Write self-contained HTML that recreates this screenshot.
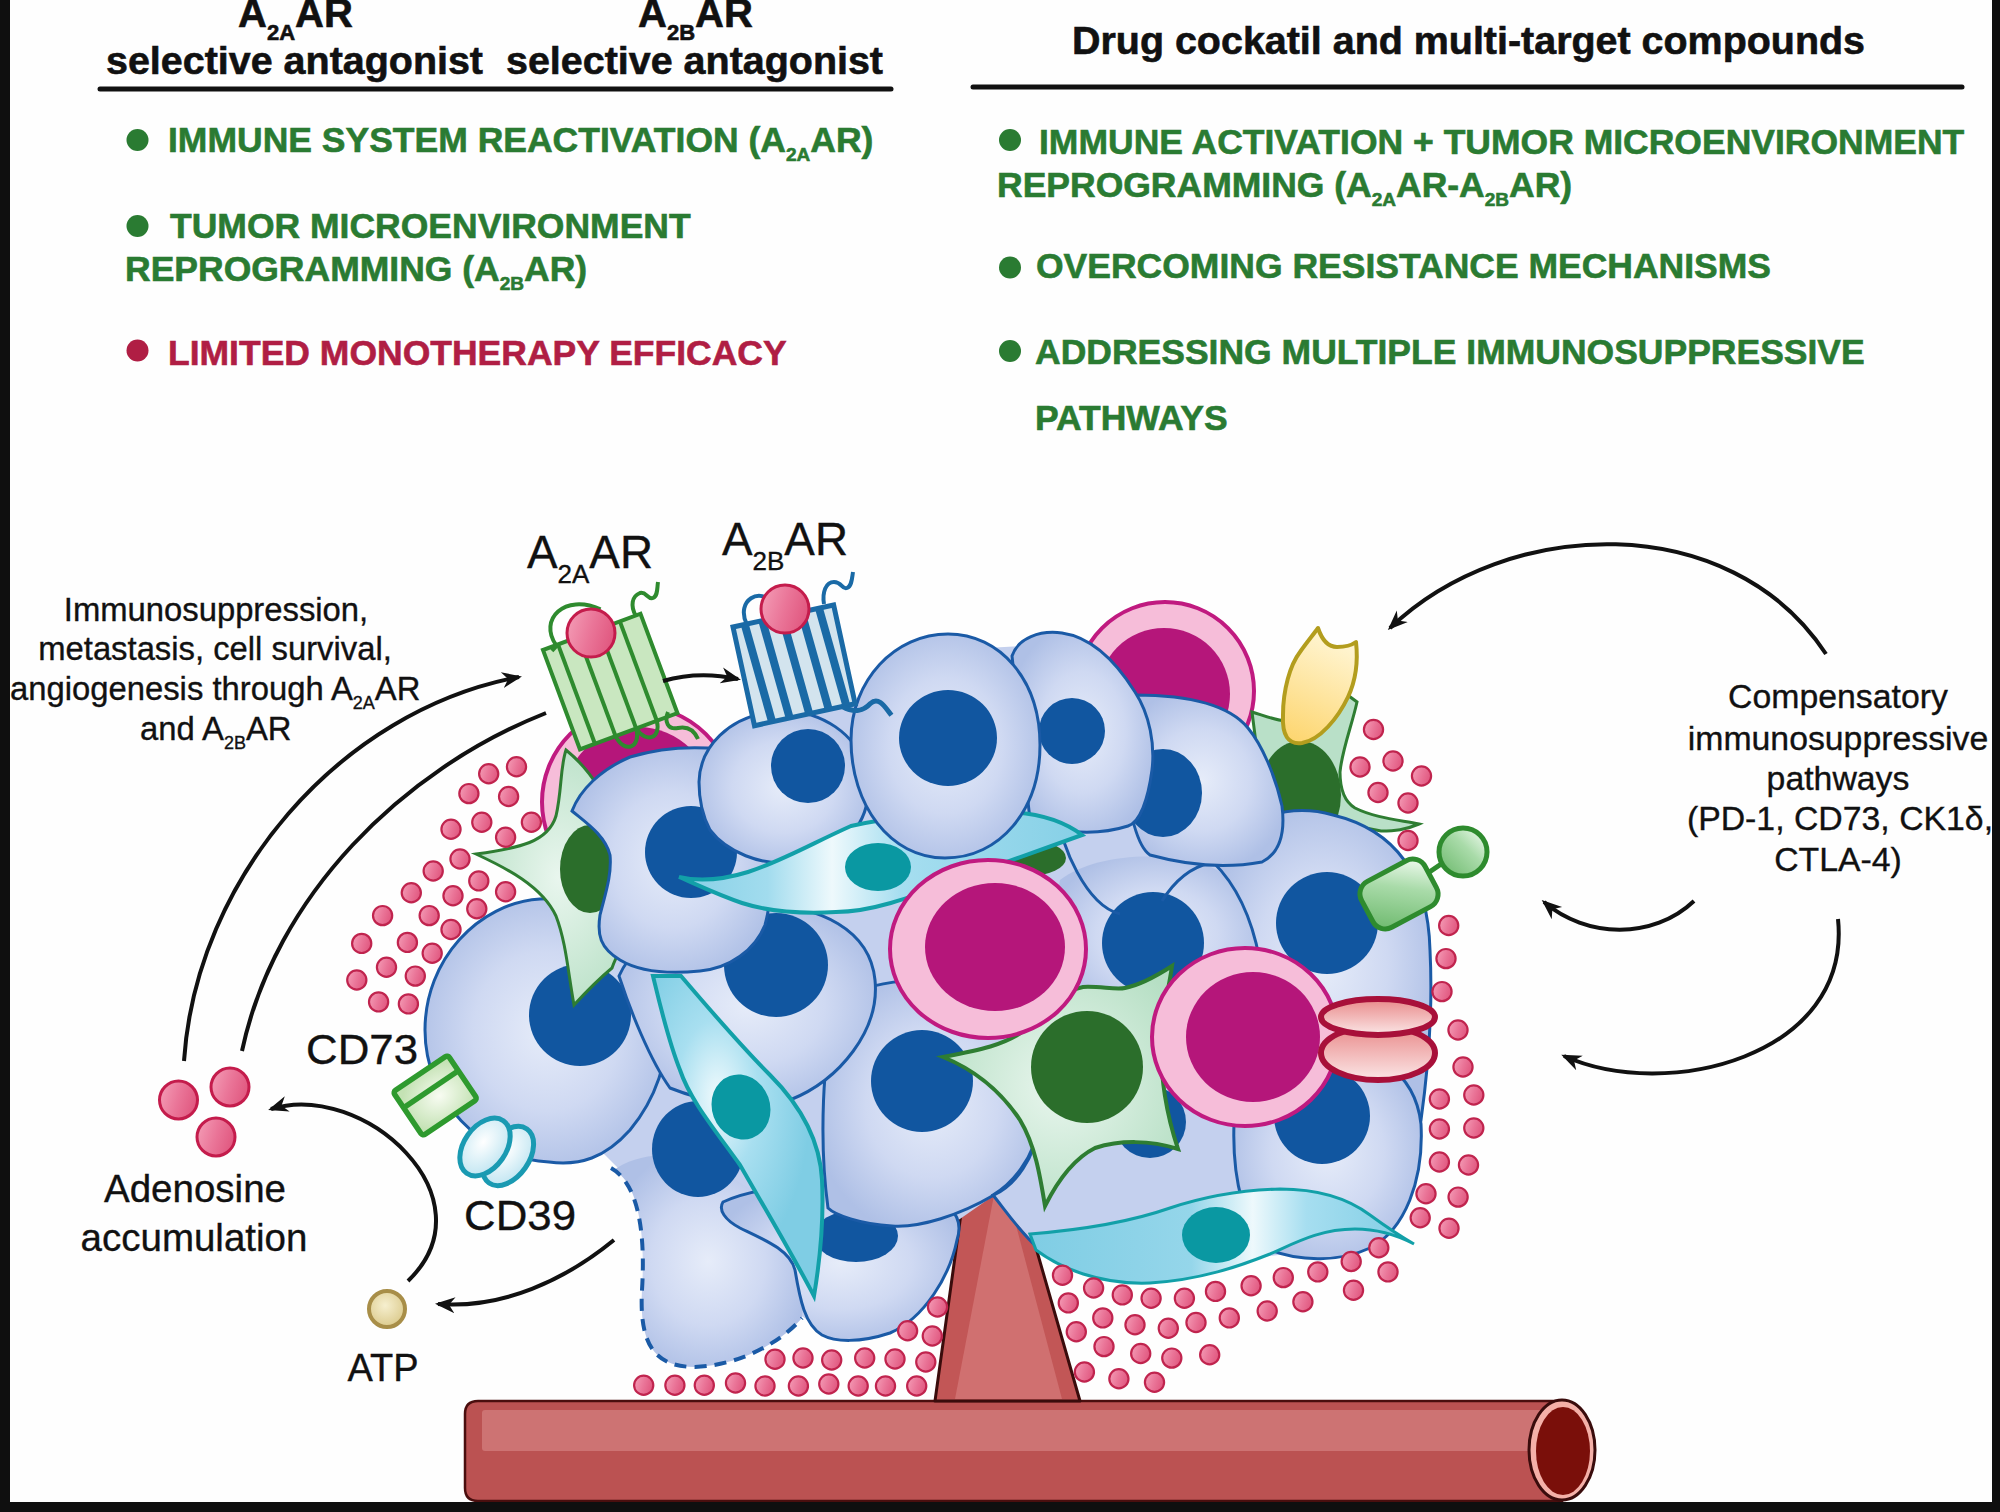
<!DOCTYPE html>
<html><head><meta charset="utf-8"><style>
html,body{margin:0;padding:0;background:#0f0f0f;}
body{width:2000px;height:1512px;overflow:hidden;position:relative;}
#pg{position:absolute;left:10px;top:0;width:1982px;height:1502px;background:#fefefe;}
svg{position:absolute;left:0;top:0;}
text{font-family:"Liberation Sans",sans-serif;}
</style></head><body>
<div id="pg"></div>
<svg width="2000" height="1512" viewBox="0 0 2000 1512">

<defs>
 <radialGradient id="gCell" cx="50%" cy="50%" r="55%">
  <stop offset="0" stop-color="#e6ecf9"/>
  <stop offset="0.55" stop-color="#cfd9f2"/>
  <stop offset="1" stop-color="#afc0e6"/>
 </radialGradient>
 <linearGradient id="gDot" x1="0" y1="0.3" x2="1" y2="0.6">
  <stop offset="0" stop-color="#f39ab4"/>
  <stop offset="0.5" stop-color="#ea7598"/>
  <stop offset="1" stop-color="#e0567e"/>
 </linearGradient>
 <linearGradient id="gTeal" x1="0" y1="0" x2="1" y2="0">
  <stop offset="0" stop-color="#86d2e6"/>
  <stop offset="0.45" stop-color="#e6f6fb"/>
  <stop offset="1" stop-color="#80cfe4"/>
 </linearGradient>
 <linearGradient id="gTealB" x1="0" y1="0" x2="1" y2="0">
  <stop offset="0" stop-color="#7fcde4"/>
  <stop offset="0.42" stop-color="#95d6ea"/>
  <stop offset="0.58" stop-color="#eef9fc"/>
  <stop offset="0.72" stop-color="#a6def0"/>
  <stop offset="1" stop-color="#7fcde4"/>
 </linearGradient>
 <radialGradient id="gTealR" cx="38%" cy="38%" r="55%">
  <stop offset="0" stop-color="#f0fafd"/>
  <stop offset="0.45" stop-color="#a8dff0"/>
  <stop offset="1" stop-color="#7fcde4"/>
 </radialGradient>
 <linearGradient id="gTealU" x1="0" y1="0" x2="1" y2="0">
  <stop offset="0" stop-color="#86d0e6"/>
  <stop offset="0.22" stop-color="#a2dcee"/>
  <stop offset="0.38" stop-color="#eef9fc"/>
  <stop offset="0.55" stop-color="#a6def0"/>
  <stop offset="1" stop-color="#86d0e6"/>
 </linearGradient>
 <linearGradient id="gTealV" x1="0" y1="0" x2="0" y2="1">
  <stop offset="0" stop-color="#86d2e6"/>
  <stop offset="0.5" stop-color="#e6f6fb"/>
  <stop offset="1" stop-color="#80cfe4"/>
 </linearGradient>
 <radialGradient id="gStell" cx="50%" cy="50%" r="60%">
  <stop offset="0" stop-color="#e9f6ee"/>
  <stop offset="1" stop-color="#b6dfc4"/>
 </radialGradient>
 <linearGradient id="gYel" x1="0" y1="1" x2="0.3" y2="0">
  <stop offset="0" stop-color="#fdd46a"/>
  <stop offset="1" stop-color="#fff4cf"/>
 </linearGradient>
 <linearGradient id="gGreenR" x1="0.1" y1="0.9" x2="0.9" y2="0.1">
  <stop offset="0" stop-color="#74bd74"/>
  <stop offset="0.6" stop-color="#a9dba9"/>
  <stop offset="1" stop-color="#e6f6e6"/>
 </linearGradient>
 <linearGradient id="gRedR" x1="0" y1="0" x2="0" y2="1">
  <stop offset="0" stop-color="#e98a8a"/>
  <stop offset="1" stop-color="#fbe6e6"/>
 </linearGradient>
 <radialGradient id="gATP" cx="45%" cy="40%" r="60%">
  <stop offset="0" stop-color="#f6efcf"/>
  <stop offset="1" stop-color="#dccb8e"/>
 </radialGradient>
 <linearGradient id="gRecG" x1="0" y1="0" x2="1" y2="1">
  <stop offset="0" stop-color="#c9e7c0"/>
  <stop offset="1" stop-color="#c9e7c0"/>
 </linearGradient>
 <radialGradient id="gCD73" cx="55%" cy="55%" r="60%">
  <stop offset="0" stop-color="#f8fcf2"/>
  <stop offset="1" stop-color="#c4e2b4"/>
 </radialGradient>
 <radialGradient id="gCD39" cx="40%" cy="45%" r="60%">
  <stop offset="0" stop-color="#ffffff"/>
  <stop offset="1" stop-color="#c2e6f2"/>
 </radialGradient>
 <marker id="ah" viewBox="0 0 20 20" refX="17" refY="10" markerWidth="20" markerHeight="20" markerUnits="userSpaceOnUse" orient="auto">
  <path d="M0,2 L20,10 L0,18 L6,10 Z" fill="#111"/>
 </marker>
</defs>

<g id="diagram">
<g id="vessel">
<path d="M478 1401 L1562 1401 L1562 1501 L478 1501 Q465 1501 465 1488 L465 1414 Q465 1401 478 1401 Z" fill="#bb5252" stroke="#4a0e0e" stroke-width="2.5"/>
<rect x="482" y="1410" width="1080" height="41" rx="3" fill="#cd7373"/>
<ellipse cx="1562" cy="1450" rx="33" ry="50" fill="#f4b0a8" stroke="#3a0c0c" stroke-width="3"/>
<ellipse cx="1563" cy="1451" rx="27" ry="44" fill="#7a0f0a"/>
</g>
<path d="M935 1401 L964 1192 L1020 1192 L1080 1401 Z" fill="#c25656" stroke="#3a0c0c" stroke-width="3" stroke-linejoin="round"/>
<path d="M955 1399 L994 1195 L1008 1195 L1062 1399 Z" fill="#d07070"/>
<path d="M440,1030 L470,940 L540,905 L580,860 L600,800 L650,760 L720,750 L780,720 L860,700 L950,650 L1040,645 L1100,680 L1160,700 L1240,740 L1290,790 L1360,820 L1410,880 L1420,960 L1415,1080 L1410,1160 L1380,1230 L1320,1250 L1220,1262 L1100,1240 L1040,1250 L993,1196 L957,1221 L930,1250 L900,1320 L830,1335 L800,1315 L720,1230 L640,1190 L600,1150 L550,1155 L470,1120 Z" fill="#c4d0ee"/>
<ellipse cx="638" cy="802" rx="96" ry="96" fill="#f6bdd9" stroke="#c01a80" stroke-width="4"/><ellipse cx="638" cy="802" rx="75" ry="75" fill="#b5167a"/>
<ellipse cx="1165" cy="691" rx="89" ry="89" fill="#f6bdd9" stroke="#c01a80" stroke-width="4"/><ellipse cx="1164" cy="694" rx="66" ry="66" fill="#b5167a"/>
<path d="M1252,712 C1265,716 1275,720 1285,721 L1300,660 L1357,702 C1352,725 1342,750 1340,772 C1340,790 1345,802 1355,808 C1375,818 1400,820 1419,824 C1405,830 1395,831 1381,831 L1300,815 L1262,790 Z" fill="#b9e0c8" stroke="#2e7d32" stroke-width="3"/>
<ellipse cx="1300" cy="795" rx="41" ry="54" fill="#2b6e2b"/>
<path d="M1318,628 C1322,640 1328,647 1337,647 C1345,647 1352,645 1356,642 C1358,660 1356,680 1348,697 C1338,718 1320,740 1302,743 C1288,745 1282,735 1283,715 C1283,690 1290,665 1300,652 C1307,642 1313,635 1318,628 Z" fill="url(#gYel)" stroke="#b39d1e" stroke-width="4" stroke-linejoin="round"/>
<path d="M1060,880 C1090,858 1140,852 1190,860 C1230,868 1255,900 1258,940 C1260,985 1240,1010 1200,1015 L1090,1010 C1060,990 1050,930 1060,880 Z" fill="url(#gCell)"/>
<circle cx="1153" cy="943" r="51" fill="#1156a0"/>
<path d="M1064,842 C1070,860 1082,885 1097,900 C1105,908 1112,912 1120,914" fill="none" stroke="#1a5aa6" stroke-width="3"/>
<path d="M1162,901 C1172,885 1188,868 1210,863 C1228,860 1245,866 1268,864 C1274,858 1278,850 1280,840" fill="none" stroke="#1a5aa6" stroke-width="3"/>
<path d="M1213,862 C1245,815 1290,803 1333,815 C1395,830 1428,875 1430,950 C1433,1010 1428,1070 1421,1120 L1300,1110 L1260,1075 C1272,1000 1262,910 1213,862 Z" fill="url(#gCell)" stroke="#1a5aa6" stroke-width="3"/>
<circle cx="1327" cy="923" r="51" fill="#1156a0"/>
<path d="M1234,1124 C1236,1075 1270,1045 1320,1045 C1370,1045 1415,1070 1421,1124 C1424,1180 1405,1230 1370,1248 C1340,1262 1300,1262 1270,1250 C1245,1230 1232,1180 1234,1124 Z" fill="url(#gCell)" stroke="#1a5aa6" stroke-width="3"/>
<circle cx="1322" cy="1116" r="48" fill="#1156a0"/>
<path d="M1135,695 C1175,695 1225,700 1248,728 C1262,745 1275,775 1282,806 C1285,830 1282,852 1262,862 C1230,868 1190,866 1150,855 C1135,845 1125,800 1120,720 Z" fill="url(#gCell)" stroke="#1a5aa6" stroke-width="3"/>
<ellipse cx="1163" cy="793" rx="39" ry="44" fill="#1156a0"/>
<path d="M1012,656 C1018,638 1040,630 1062,633 C1090,637 1115,660 1135,692 C1150,715 1155,745 1152,770 C1148,800 1140,822 1128,826 C1100,835 1060,835 1030,820 Z" fill="url(#gCell)" stroke="#1a5aa6" stroke-width="3"/>
<circle cx="1072" cy="731" r="33" fill="#1156a0"/>
<path d="M614,1170 C636,1182 646,1225 642,1290 C639,1345 655,1367 695,1367 C745,1365 785,1338 802,1318 C805,1280 800,1240 780,1215 C760,1190 720,1170 690,1160 C660,1150 630,1158 614,1170 Z" fill="url(#gCell)"/>
<path d="M611,1168 C636,1182 646,1225 642,1290 C639,1345 655,1367 695,1367 C745,1365 785,1338 802,1318" fill="none" stroke="#1a5aa6" stroke-width="4" stroke-dasharray="12 8"/>
<ellipse cx="698" cy="1149" rx="46" ry="48" fill="#1156a0"/>
<path d="M723,1202 C760,1185 830,1180 900,1190 C950,1198 965,1215 957,1240 C950,1275 925,1318 890,1333 C860,1343 835,1342 822,1335 C805,1325 800,1300 795,1270 C790,1250 765,1240 740,1228 C725,1220 718,1210 723,1202 Z" fill="url(#gCell)" stroke="#1a5aa6" stroke-width="3"/>
<ellipse cx="856" cy="1236" rx="42" ry="26" fill="#1156a0"/>
<path d="M840,1000 C880,975 950,975 995,995 C1030,1015 1045,1070 1040,1120 C1035,1160 1015,1185 994,1195 C960,1215 920,1228 892,1226 C860,1224 835,1215 828,1208 C820,1150 820,1050 840,1000 Z" fill="url(#gCell)" stroke="#1a5aa6" stroke-width="3"/>
<circle cx="922" cy="1081" r="51" fill="#1156a0"/>
<path d="M1040,1120 C1035,1160 1010,1185 993,1195 C1005,1210 1020,1232 1038,1248" fill="none" stroke="#1a5aa6" stroke-width="3"/>
<path d="M425,1030 C425,960 478,903 540,899 C605,895 662,940 668,1000 C672,1060 655,1100 630,1130 C605,1158 580,1166 549,1162 C480,1158 425,1100 425,1030 Z" fill="url(#gCell)" stroke="#1a5aa6" stroke-width="3"/>
<circle cx="580" cy="1015" r="51" fill="#1156a0"/>
<path d="M476,854 C520,848 548,842 556,816 C562,790 560,768 566,750 C586,766 604,792 616,822 L642,900 C632,930 618,950 612,968 C600,978 586,992 574,1005 C568,972 566,942 556,916 C542,886 506,868 476,854 Z" fill="url(#gStell)" stroke="#2e7d32" stroke-width="3"/>
<ellipse cx="590" cy="869" rx="30" ry="44" fill="#2b6e2b"/>
<path d="M619,976 C640,930 700,905 760,905 C820,905 870,930 875,980 C880,1030 840,1080 790,1100 C750,1112 700,1100 670,1088 C650,1060 630,1010 619,976 Z" fill="url(#gCell)" stroke="#1a5aa6" stroke-width="3"/>
<circle cx="776" cy="965" r="52" fill="#1156a0"/>
<path d="M653,976 L681,976 C710,1010 740,1045 770,1075 C800,1105 820,1140 822,1180 C824,1220 820,1260 814,1296 C790,1250 760,1200 740,1165 C715,1130 690,1100 680,1070 C668,1040 660,1005 653,976 Z" fill="url(#gTealR)" stroke="#12a0a8" stroke-width="4"/>
<ellipse cx="741" cy="1107" rx="29" ry="33" fill="#0a98a2" transform="rotate(-20 741 1107)"/>
<path d="M572,811 C580,790 600,770 630,757 C660,748 690,746 720,749 C745,752 768,770 772,800 C776,840 772,900 765,925 C755,950 730,968 700,971 C670,974 640,972 620,960 C600,948 597,935 600,915 C605,895 612,875 610,855 C605,835 585,822 572,811 Z" fill="url(#gCell)" stroke="#1a5aa6" stroke-width="3"/>
<circle cx="691" cy="852" r="46" fill="#1156a0"/>
<path d="M699,782 C700,745 730,718 770,712 C820,706 862,735 868,780 C872,820 845,855 800,862 C760,868 725,850 710,830 C702,815 699,798 699,782 Z" fill="url(#gCell)" stroke="#1a5aa6" stroke-width="3"/>
<circle cx="808" cy="766" r="37" fill="#1156a0"/>
<ellipse cx="1028" cy="858" rx="38" ry="18" fill="#2b6e2b"/>
<path d="M679,877 C700,882 722,880 748,872 C780,862 815,842 851,826 C900,815 950,812 1000,812 C1035,812 1062,820 1082,835 C1040,850 990,868 950,882 C910,898 870,912 836,912 C800,914 770,912 742,903 C718,895 700,886 679,877 Z" fill="url(#gTealU)" stroke="#12a0a8" stroke-width="4"/>
<ellipse cx="878" cy="867" rx="33" ry="24" fill="#0a98a2"/>
<path d="M851,740 C851,680 895,634 948,634 C1000,634 1040,680 1040,745 C1040,810 1000,858 945,858 C890,858 851,805 851,740 Z" fill="url(#gCell)" stroke="#1a5aa6" stroke-width="3"/>
<ellipse cx="948" cy="738" rx="49" ry="48" fill="#1156a0"/>
<circle cx="1150" cy="1122" r="36" fill="#1156a0"/>
<path d="M943,1057 C980,1050 1005,1045 1025,1030 C1045,1012 1060,992 1083,987 C1100,986 1115,990 1125,988 C1140,985 1158,975 1172,966 C1168,995 1160,1020 1160,1045 C1162,1080 1165,1110 1178,1149 C1150,1140 1120,1140 1095,1148 C1075,1158 1058,1180 1045,1206 C1040,1175 1035,1145 1020,1120 C1000,1090 975,1070 943,1057 Z" fill="url(#gStell)" stroke="#2e7d32" stroke-width="4"/>
<circle cx="1087" cy="1067" r="56" fill="#2b6e2b"/>
<ellipse cx="988" cy="949" rx="98" ry="89" fill="#f6bdd9" stroke="#c01a80" stroke-width="4"/><ellipse cx="995" cy="947" rx="70" ry="64" fill="#b5167a"/>
<ellipse cx="1245" cy="1037" rx="93" ry="89" fill="#f6bdd9" stroke="#c01a80" stroke-width="4"/><ellipse cx="1253" cy="1037" rx="67" ry="65" fill="#b5167a"/>
<path d="M1030,1234 C1080,1230 1130,1222 1170,1208 C1200,1198 1240,1190 1280,1189 C1320,1189 1350,1200 1370,1215 C1385,1226 1400,1236 1414,1244 C1395,1234 1375,1229 1355,1229 C1320,1229 1295,1243 1270,1254 C1240,1266 1200,1280 1150,1283 C1100,1285 1060,1268 1036,1250 Z" fill="url(#gTealB)" stroke="#12a0a8" stroke-width="3"/>
<ellipse cx="1216" cy="1235" rx="34" ry="28" fill="#0a98a2"/>
<g transform="translate(543,650) rotate(-20.4)"><path d="M14,0 C6,-30 40,-46 68,-18" fill="none" stroke="#2e8b2e" stroke-width="4"/><rect x="0" y="0" width="104" height="106" fill="#c9e7c0" stroke="#2e8b2e" stroke-width="4"/><line x1="16" y1="0" x2="16" y2="106" stroke="#2e8b2e" stroke-width="4"/><line x1="38" y1="0" x2="38" y2="106" stroke="#2e8b2e" stroke-width="4"/><line x1="60" y1="0" x2="60" y2="106" stroke="#2e8b2e" stroke-width="4"/><line x1="82" y1="0" x2="82" y2="106" stroke="#2e8b2e" stroke-width="4"/><path d="M8,4 L16,0" stroke="#2e8b2e" stroke-width="4"/><path d="M38,106 C40,126 58,126 60,106 M60,106 C64,124 80,124 82,106" fill="none" stroke="#2e8b2e" stroke-width="4"/></g><path d="M668,712 C664,722 668,730 678,728 C688,726 694,730 698,739" fill="none" stroke="#2e8b2e" stroke-width="4"/><path d="M636,616 C630,606 632,596 640,593 C646,591 648,600 653,598 C658,596 657,588 658,582" fill="none" stroke="#2e8b2e" stroke-width="4"/><circle cx="591" cy="633" r="24" fill="url(#gDot)" stroke="#c41c4c" stroke-width="3"/>
<g transform="translate(733,627) rotate(-12.3)"><path d="M14,0 C8,-26 36,-34 44,-14" fill="none" stroke="#1a6aa6" stroke-width="4"/><rect x="0" y="0" width="103" height="101" fill="#d3e4ee" stroke="#1a6aa6" stroke-width="5"/><path d="M12,0 L18,101" stroke="#1a6aa6" stroke-width="8"/><path d="M30,0 L36,101" stroke="#1a6aa6" stroke-width="8"/><path d="M50,0 L56,101" stroke="#1a6aa6" stroke-width="8"/><path d="M70,0 L76,101" stroke="#1a6aa6" stroke-width="8"/><path d="M88,0 L94,101" stroke="#1a6aa6" stroke-width="8"/><path d="M90,101 C100,110 110,110 118,104 C128,98 132,112 136,120" fill="none" stroke="#1a6aa6" stroke-width="5"/></g><path d="M824,604 C822,592 826,582 834,582 C842,582 842,590 847,588 C852,586 852,578 853,572" fill="none" stroke="#1a6aa6" stroke-width="4"/><circle cx="785" cy="609" r="24" fill="url(#gDot)" stroke="#c41c4c" stroke-width="3"/>
<g transform="translate(393,1092) rotate(-34)"><rect x="0" y="0" width="66" height="53" rx="3" fill="url(#gCD73)" stroke="#2e9a2e" stroke-width="5.5"/><line x1="0" y1="19" x2="66" y2="19" stroke="#2e9a2e" stroke-width="5.5"/></g>
<ellipse cx="508" cy="1156" rx="21" ry="33" transform="rotate(35 508 1156)" fill="url(#gCD39)" stroke="#1a9ab2" stroke-width="5"/>
<ellipse cx="485" cy="1147" rx="21" ry="32" transform="rotate(35 485 1147)" fill="url(#gCD39)" stroke="#1a9ab2" stroke-width="5"/>
<line x1="1425" y1="875" x2="1450" y2="858" stroke="#2e8b2e" stroke-width="5"/>
<g transform="translate(1399,894) rotate(-28)"><rect x="-36" y="-26" width="72" height="52" rx="14" fill="url(#gGreenR)" stroke="#2e8b2e" stroke-width="5"/></g>
<circle cx="1463" cy="852" r="24" fill="url(#gGreenR)" stroke="#2e8b2e" stroke-width="5"/>
<ellipse cx="1378" cy="1053" rx="57" ry="27" fill="url(#gRedR)" stroke="#a8103a" stroke-width="6"/>
<ellipse cx="1378" cy="1017" rx="57" ry="18" fill="url(#gRedR)" stroke="#a8103a" stroke-width="6"/>
<circle cx="516.5" cy="766.8" r="9.6" fill="url(#gDot)" stroke="#c0244e" stroke-width="2.2"/>
<circle cx="488.7" cy="773.7" r="9.6" fill="url(#gDot)" stroke="#c0244e" stroke-width="2.2"/>
<circle cx="468.9" cy="793.6" r="9.6" fill="url(#gDot)" stroke="#c0244e" stroke-width="2.2"/>
<circle cx="508.6" cy="796.5" r="9.6" fill="url(#gDot)" stroke="#c0244e" stroke-width="2.2"/>
<circle cx="451.0" cy="829.3" r="9.6" fill="url(#gDot)" stroke="#c0244e" stroke-width="2.2"/>
<circle cx="481.8" cy="822.3" r="9.6" fill="url(#gDot)" stroke="#c0244e" stroke-width="2.2"/>
<circle cx="531.4" cy="822.3" r="9.6" fill="url(#gDot)" stroke="#c0244e" stroke-width="2.2"/>
<circle cx="505.6" cy="837.2" r="9.6" fill="url(#gDot)" stroke="#c0244e" stroke-width="2.2"/>
<circle cx="460.0" cy="859.0" r="9.6" fill="url(#gDot)" stroke="#c0244e" stroke-width="2.2"/>
<circle cx="433.2" cy="871.0" r="9.6" fill="url(#gDot)" stroke="#c0244e" stroke-width="2.2"/>
<circle cx="478.8" cy="880.9" r="9.6" fill="url(#gDot)" stroke="#c0244e" stroke-width="2.2"/>
<circle cx="505.6" cy="891.8" r="9.6" fill="url(#gDot)" stroke="#c0244e" stroke-width="2.2"/>
<circle cx="411.3" cy="892.8" r="9.6" fill="url(#gDot)" stroke="#c0244e" stroke-width="2.2"/>
<circle cx="453.0" cy="895.8" r="9.6" fill="url(#gDot)" stroke="#c0244e" stroke-width="2.2"/>
<circle cx="476.8" cy="908.7" r="9.6" fill="url(#gDot)" stroke="#c0244e" stroke-width="2.2"/>
<circle cx="382.6" cy="915.6" r="9.6" fill="url(#gDot)" stroke="#c0244e" stroke-width="2.2"/>
<circle cx="429.2" cy="915.6" r="9.6" fill="url(#gDot)" stroke="#c0244e" stroke-width="2.2"/>
<circle cx="451.0" cy="929.5" r="9.6" fill="url(#gDot)" stroke="#c0244e" stroke-width="2.2"/>
<circle cx="361.7" cy="943.4" r="9.6" fill="url(#gDot)" stroke="#c0244e" stroke-width="2.2"/>
<circle cx="407.4" cy="942.4" r="9.6" fill="url(#gDot)" stroke="#c0244e" stroke-width="2.2"/>
<circle cx="432.2" cy="953.3" r="9.6" fill="url(#gDot)" stroke="#c0244e" stroke-width="2.2"/>
<circle cx="386.5" cy="967.2" r="9.6" fill="url(#gDot)" stroke="#c0244e" stroke-width="2.2"/>
<circle cx="415.3" cy="976.1" r="9.6" fill="url(#gDot)" stroke="#c0244e" stroke-width="2.2"/>
<circle cx="356.8" cy="980.0" r="9.6" fill="url(#gDot)" stroke="#c0244e" stroke-width="2.2"/>
<circle cx="378.6" cy="1001.9" r="9.6" fill="url(#gDot)" stroke="#c0244e" stroke-width="2.2"/>
<circle cx="408.4" cy="1003.9" r="9.6" fill="url(#gDot)" stroke="#c0244e" stroke-width="2.2"/>
<circle cx="1373.5" cy="729.5" r="9.6" fill="url(#gDot)" stroke="#c0244e" stroke-width="2.2"/>
<circle cx="1360.0" cy="767.0" r="9.6" fill="url(#gDot)" stroke="#c0244e" stroke-width="2.2"/>
<circle cx="1393.0" cy="761.0" r="9.6" fill="url(#gDot)" stroke="#c0244e" stroke-width="2.2"/>
<circle cx="1421.5" cy="776.0" r="9.6" fill="url(#gDot)" stroke="#c0244e" stroke-width="2.2"/>
<circle cx="1378.0" cy="792.5" r="9.6" fill="url(#gDot)" stroke="#c0244e" stroke-width="2.2"/>
<circle cx="1408.0" cy="803.0" r="9.6" fill="url(#gDot)" stroke="#c0244e" stroke-width="2.2"/>
<circle cx="1408.0" cy="840.5" r="9.6" fill="url(#gDot)" stroke="#c0244e" stroke-width="2.2"/>
<circle cx="1448.7" cy="925.5" r="9.6" fill="url(#gDot)" stroke="#c0244e" stroke-width="2.2"/>
<circle cx="1446.0" cy="958.6" r="9.6" fill="url(#gDot)" stroke="#c0244e" stroke-width="2.2"/>
<circle cx="1442.0" cy="991.6" r="9.6" fill="url(#gDot)" stroke="#c0244e" stroke-width="2.2"/>
<circle cx="1458.0" cy="1030.0" r="9.6" fill="url(#gDot)" stroke="#c0244e" stroke-width="2.2"/>
<circle cx="1463.0" cy="1067.0" r="9.6" fill="url(#gDot)" stroke="#c0244e" stroke-width="2.2"/>
<circle cx="1439.4" cy="1099.0" r="9.6" fill="url(#gDot)" stroke="#c0244e" stroke-width="2.2"/>
<circle cx="1473.8" cy="1095.0" r="9.6" fill="url(#gDot)" stroke="#c0244e" stroke-width="2.2"/>
<circle cx="1439.4" cy="1129.0" r="9.6" fill="url(#gDot)" stroke="#c0244e" stroke-width="2.2"/>
<circle cx="1473.8" cy="1128.0" r="9.6" fill="url(#gDot)" stroke="#c0244e" stroke-width="2.2"/>
<circle cx="1439.4" cy="1162.0" r="9.6" fill="url(#gDot)" stroke="#c0244e" stroke-width="2.2"/>
<circle cx="1468.5" cy="1165.0" r="9.6" fill="url(#gDot)" stroke="#c0244e" stroke-width="2.2"/>
<circle cx="1426.0" cy="1193.7" r="9.6" fill="url(#gDot)" stroke="#c0244e" stroke-width="2.2"/>
<circle cx="1458.1" cy="1197.1" r="9.6" fill="url(#gDot)" stroke="#c0244e" stroke-width="2.2"/>
<circle cx="1420.2" cy="1217.8" r="9.6" fill="url(#gDot)" stroke="#c0244e" stroke-width="2.2"/>
<circle cx="1449.0" cy="1228.2" r="9.6" fill="url(#gDot)" stroke="#c0244e" stroke-width="2.2"/>
<circle cx="1062.5" cy="1275.3" r="9.6" fill="url(#gDot)" stroke="#c0244e" stroke-width="2.2"/>
<circle cx="1093.6" cy="1288.0" r="9.6" fill="url(#gDot)" stroke="#c0244e" stroke-width="2.2"/>
<circle cx="1122.3" cy="1294.9" r="9.6" fill="url(#gDot)" stroke="#c0244e" stroke-width="2.2"/>
<circle cx="1151.1" cy="1298.3" r="9.6" fill="url(#gDot)" stroke="#c0244e" stroke-width="2.2"/>
<circle cx="1184.4" cy="1298.3" r="9.6" fill="url(#gDot)" stroke="#c0244e" stroke-width="2.2"/>
<circle cx="1215.5" cy="1291.4" r="9.6" fill="url(#gDot)" stroke="#c0244e" stroke-width="2.2"/>
<circle cx="1251.1" cy="1285.7" r="9.6" fill="url(#gDot)" stroke="#c0244e" stroke-width="2.2"/>
<circle cx="1283.3" cy="1277.6" r="9.6" fill="url(#gDot)" stroke="#c0244e" stroke-width="2.2"/>
<circle cx="1317.8" cy="1271.9" r="9.6" fill="url(#gDot)" stroke="#c0244e" stroke-width="2.2"/>
<circle cx="1351.2" cy="1261.5" r="9.6" fill="url(#gDot)" stroke="#c0244e" stroke-width="2.2"/>
<circle cx="1378.8" cy="1247.7" r="9.6" fill="url(#gDot)" stroke="#c0244e" stroke-width="2.2"/>
<circle cx="1388.0" cy="1271.9" r="9.6" fill="url(#gDot)" stroke="#c0244e" stroke-width="2.2"/>
<circle cx="1353.5" cy="1290.3" r="9.6" fill="url(#gDot)" stroke="#c0244e" stroke-width="2.2"/>
<circle cx="1302.9" cy="1301.8" r="9.6" fill="url(#gDot)" stroke="#c0244e" stroke-width="2.2"/>
<circle cx="1267.2" cy="1311.0" r="9.6" fill="url(#gDot)" stroke="#c0244e" stroke-width="2.2"/>
<circle cx="1229.3" cy="1317.9" r="9.6" fill="url(#gDot)" stroke="#c0244e" stroke-width="2.2"/>
<circle cx="1196.0" cy="1322.5" r="9.6" fill="url(#gDot)" stroke="#c0244e" stroke-width="2.2"/>
<circle cx="1168.3" cy="1328.2" r="9.6" fill="url(#gDot)" stroke="#c0244e" stroke-width="2.2"/>
<circle cx="1135.0" cy="1324.8" r="9.6" fill="url(#gDot)" stroke="#c0244e" stroke-width="2.2"/>
<circle cx="1102.8" cy="1317.9" r="9.6" fill="url(#gDot)" stroke="#c0244e" stroke-width="2.2"/>
<circle cx="1068.3" cy="1302.9" r="9.6" fill="url(#gDot)" stroke="#c0244e" stroke-width="2.2"/>
<circle cx="1076.3" cy="1331.7" r="9.6" fill="url(#gDot)" stroke="#c0244e" stroke-width="2.2"/>
<circle cx="1104.0" cy="1346.6" r="9.6" fill="url(#gDot)" stroke="#c0244e" stroke-width="2.2"/>
<circle cx="1140.7" cy="1353.5" r="9.6" fill="url(#gDot)" stroke="#c0244e" stroke-width="2.2"/>
<circle cx="1171.8" cy="1358.1" r="9.6" fill="url(#gDot)" stroke="#c0244e" stroke-width="2.2"/>
<circle cx="1209.7" cy="1354.7" r="9.6" fill="url(#gDot)" stroke="#c0244e" stroke-width="2.2"/>
<circle cx="1084.4" cy="1372.0" r="9.6" fill="url(#gDot)" stroke="#c0244e" stroke-width="2.2"/>
<circle cx="1118.9" cy="1378.8" r="9.6" fill="url(#gDot)" stroke="#c0244e" stroke-width="2.2"/>
<circle cx="1154.5" cy="1382.3" r="9.6" fill="url(#gDot)" stroke="#c0244e" stroke-width="2.2"/>
<circle cx="643.7" cy="1385.3" r="9.6" fill="url(#gDot)" stroke="#c0244e" stroke-width="2.2"/>
<circle cx="674.9" cy="1385.3" r="9.6" fill="url(#gDot)" stroke="#c0244e" stroke-width="2.2"/>
<circle cx="704.3" cy="1385.3" r="9.6" fill="url(#gDot)" stroke="#c0244e" stroke-width="2.2"/>
<circle cx="735.5" cy="1383.0" r="9.6" fill="url(#gDot)" stroke="#c0244e" stroke-width="2.2"/>
<circle cx="765.0" cy="1386.0" r="9.6" fill="url(#gDot)" stroke="#c0244e" stroke-width="2.2"/>
<circle cx="798.4" cy="1386.0" r="9.6" fill="url(#gDot)" stroke="#c0244e" stroke-width="2.2"/>
<circle cx="828.8" cy="1384.0" r="9.6" fill="url(#gDot)" stroke="#c0244e" stroke-width="2.2"/>
<circle cx="858.2" cy="1386.0" r="9.6" fill="url(#gDot)" stroke="#c0244e" stroke-width="2.2"/>
<circle cx="885.5" cy="1386.0" r="9.6" fill="url(#gDot)" stroke="#c0244e" stroke-width="2.2"/>
<circle cx="916.7" cy="1386.0" r="9.6" fill="url(#gDot)" stroke="#c0244e" stroke-width="2.2"/>
<circle cx="775.0" cy="1359.3" r="9.6" fill="url(#gDot)" stroke="#c0244e" stroke-width="2.2"/>
<circle cx="803.0" cy="1358.0" r="9.6" fill="url(#gDot)" stroke="#c0244e" stroke-width="2.2"/>
<circle cx="831.7" cy="1360.0" r="9.6" fill="url(#gDot)" stroke="#c0244e" stroke-width="2.2"/>
<circle cx="864.7" cy="1358.0" r="9.6" fill="url(#gDot)" stroke="#c0244e" stroke-width="2.2"/>
<circle cx="895.0" cy="1359.0" r="9.6" fill="url(#gDot)" stroke="#c0244e" stroke-width="2.2"/>
<circle cx="925.8" cy="1362.0" r="9.6" fill="url(#gDot)" stroke="#c0244e" stroke-width="2.2"/>
<circle cx="907.6" cy="1330.7" r="9.6" fill="url(#gDot)" stroke="#c0244e" stroke-width="2.2"/>
<circle cx="932.3" cy="1336.0" r="9.6" fill="url(#gDot)" stroke="#c0244e" stroke-width="2.2"/>
<circle cx="937.5" cy="1307.0" r="9.6" fill="url(#gDot)" stroke="#c0244e" stroke-width="2.2"/>
<circle cx="178.5" cy="1100" r="19" fill="url(#gDot)" stroke="#c41c4c" stroke-width="3"/>
<circle cx="230" cy="1087" r="19" fill="url(#gDot)" stroke="#c41c4c" stroke-width="3"/>
<circle cx="216" cy="1137" r="19" fill="url(#gDot)" stroke="#c41c4c" stroke-width="3"/>
<circle cx="387" cy="1309" r="18" fill="url(#gATP)" stroke="#a88e48" stroke-width="4"/>
<path d="M184,1061 C196,879 339,711 519,677" fill="none" stroke="#111" stroke-width="4" marker-end="url(#ah)"/>
<path d="M242,1051 C275,896 402,770 546,713" fill="none" stroke="#111" stroke-width="4"/>
<path d="M663,681 C690,673 715,674 738,679" fill="none" stroke="#111" stroke-width="4" marker-end="url(#ah)"/>
<path d="M1826,654 C1730,508 1507,516 1390,628" fill="none" stroke="#111" stroke-width="4" marker-end="url(#ah)"/>
<path d="M1694,901 C1653,940 1586,938 1544,902" fill="none" stroke="#111" stroke-width="4" marker-end="url(#ah)"/>
<path d="M1838,919 C1852,1057 1666,1102 1564,1056" fill="none" stroke="#111" stroke-width="4" marker-end="url(#ah)"/>
<path d="M614,1240 C565,1280 503,1309 438,1304" fill="none" stroke="#111" stroke-width="4" marker-end="url(#ah)"/>
<path d="M408,1281 C494,1198 363,1080 271,1109" fill="none" stroke="#111" stroke-width="4" marker-end="url(#ah)"/>
</g>
<g id="text">
<text x="238" y="27" font-size="40" font-weight="bold" fill="#111" stroke="#111" stroke-width="0.6">A<tspan font-size="22" dy="12.5">2A</tspan><tspan dy="-12.5">AR</tspan></text>
<text x="106" y="74" font-size="39" font-weight="bold" fill="#111" stroke="#111" stroke-width="0.6" text-anchor="start" textLength="377" lengthAdjust="spacingAndGlyphs">selective antagonist</text>
<text x="638" y="27" font-size="40" font-weight="bold" fill="#111" stroke="#111" stroke-width="0.6">A<tspan font-size="22" dy="12.5">2B</tspan><tspan dy="-12.5">AR</tspan></text>
<text x="506" y="74" font-size="39" font-weight="bold" fill="#111" stroke="#111" stroke-width="0.6" text-anchor="start" textLength="377" lengthAdjust="spacingAndGlyphs">selective antagonist</text>
<text x="1072" y="54" font-size="39" font-weight="bold" fill="#111" stroke="#111" stroke-width="0.6" text-anchor="start" textLength="793" lengthAdjust="spacingAndGlyphs">Drug cockatil and multi-target compounds</text>
<line x1="100" y1="89" x2="891" y2="89" stroke="#111" stroke-width="5" stroke-linecap="round"/>
<line x1="973" y1="87" x2="1962" y2="87" stroke="#111" stroke-width="5" stroke-linecap="round"/>
<circle cx="137.5" cy="140" r="11" fill="#2a7b32"/>
<text x="168" y="152" font-size="35.5" font-weight="bold" fill="#2a7b32" stroke="#2a7b32" stroke-width="0.6">IMMUNE SYSTEM REACTIVATION (A<tspan font-size="19" dy="9">2A</tspan><tspan dy="-9">AR)</tspan></text>
<circle cx="137.5" cy="226" r="11" fill="#2a7b32"/>
<text x="170" y="238" font-size="35.5" font-weight="bold" fill="#2a7b32" stroke="#2a7b32" stroke-width="0.6" text-anchor="start">TUMOR MICROENVIRONMENT</text>
<text x="125" y="281" font-size="35.5" font-weight="bold" fill="#2a7b32" stroke="#2a7b32" stroke-width="0.6">REPROGRAMMING (A<tspan font-size="19" dy="9">2B</tspan><tspan dy="-9">AR)</tspan></text>
<circle cx="137.5" cy="350.5" r="11" fill="#b01e44"/>
<text x="168" y="365" font-size="35.5" font-weight="bold" fill="#b01e44" stroke="#b01e44" stroke-width="0.6" text-anchor="start">LIMITED MONOTHERAPY EFFICACY</text>
<circle cx="1010" cy="140" r="11" fill="#2a7b32"/>
<text x="1039" y="154" font-size="35.5" font-weight="bold" fill="#2a7b32" stroke="#2a7b32" stroke-width="0.6" text-anchor="start">IMMUNE ACTIVATION + TUMOR MICROENVIRONMENT</text>
<text x="997" y="197" font-size="35.5" font-weight="bold" fill="#2a7b32" stroke="#2a7b32" stroke-width="0.6">REPROGRAMMING (A<tspan font-size="19" dy="9">2A</tspan><tspan dy="-9">AR-A</tspan><tspan font-size="19" dy="9">2B</tspan><tspan dy="-9">AR)</tspan></text>
<circle cx="1010" cy="267.5" r="11" fill="#2a7b32"/>
<text x="1036" y="277.5" font-size="35.5" font-weight="bold" fill="#2a7b32" stroke="#2a7b32" stroke-width="0.6" text-anchor="start">OVERCOMING RESISTANCE MECHANISMS</text>
<circle cx="1010" cy="351" r="11" fill="#2a7b32"/>
<text x="1035" y="364" font-size="35.5" font-weight="bold" fill="#2a7b32" stroke="#2a7b32" stroke-width="0.6" text-anchor="start">ADDRESSING MULTIPLE IMMUNOSUPPRESSIVE</text>
<text x="1035" y="430" font-size="35.5" font-weight="bold" fill="#2a7b32" stroke="#2a7b32" stroke-width="0.6" text-anchor="start">PATHWAYS</text>
<text stroke="#111" stroke-width="0.35" x="527" y="568" font-size="45.8" fill="#111">A<tspan font-size="26" dy="15">2A</tspan><tspan dy="-15">AR</tspan></text>
<text stroke="#111" stroke-width="0.35" x="722" y="555" font-size="45.8" fill="#111">A<tspan font-size="26" dy="14.5">2B</tspan><tspan dy="-14.5">AR</tspan></text>
<text stroke="#111" stroke-width="0.35" x="216" y="621" font-size="32.8" font-weight="normal" fill="#111" text-anchor="middle">Immunosuppression,</text>
<text stroke="#111" stroke-width="0.35" x="215" y="660" font-size="32.8" font-weight="normal" fill="#111" text-anchor="middle">metastasis, cell survival,</text>
<text stroke="#111" stroke-width="0.35" x="10" y="700" font-size="32.8" fill="#111">angiogenesis through A<tspan font-size="18" dy="9">2A</tspan><tspan dy="-9">AR</tspan></text>
<text stroke="#111" stroke-width="0.35" x="140" y="740" font-size="32.8" fill="#111">and A<tspan font-size="18" dy="9">2B</tspan><tspan dy="-9">AR</tspan></text>
<text stroke="#111" stroke-width="0.35" x="1838" y="708" font-size="33.8" font-weight="normal" fill="#111" text-anchor="middle">Compensatory</text>
<text stroke="#111" stroke-width="0.35" x="1838" y="750" font-size="33.8" font-weight="normal" fill="#111" text-anchor="middle">immunosuppressive</text>
<text stroke="#111" stroke-width="0.35" x="1838" y="790" font-size="33.8" font-weight="normal" fill="#111" text-anchor="middle">pathways</text>
<text stroke="#111" stroke-width="0.35" x="1840" y="830" font-size="33.8" font-weight="normal" fill="#111" text-anchor="middle">(PD-1, CD73, CK1δ,</text>
<text stroke="#111" stroke-width="0.35" x="1838" y="871" font-size="33.8" font-weight="normal" fill="#111" text-anchor="middle">CTLA-4)</text>
<text stroke="#111" stroke-width="0.35" x="306" y="1064" font-size="42" font-weight="normal" fill="#111" text-anchor="start" textLength="112" lengthAdjust="spacingAndGlyphs">CD73</text>
<text stroke="#111" stroke-width="0.35" x="464" y="1230" font-size="42" font-weight="normal" fill="#111" text-anchor="start" textLength="112" lengthAdjust="spacingAndGlyphs">CD39</text>
<text stroke="#111" stroke-width="0.35" x="195" y="1202" font-size="38.5" font-weight="normal" fill="#111" text-anchor="middle">Adenosine</text>
<text stroke="#111" stroke-width="0.35" x="194" y="1251" font-size="38.5" font-weight="normal" fill="#111" text-anchor="middle">accumulation</text>
<text stroke="#111" stroke-width="0.35" x="383" y="1381" font-size="38" font-weight="normal" fill="#111" text-anchor="middle">ATP</text>
</g>
<rect x="0" y="0" width="10" height="1512" fill="#0f0f0f"/>
<rect x="1992" y="0" width="8" height="1512" fill="#0f0f0f"/>
<rect x="0" y="1502" width="2000" height="10" fill="#0f0f0f"/>
</svg>
</body></html>
